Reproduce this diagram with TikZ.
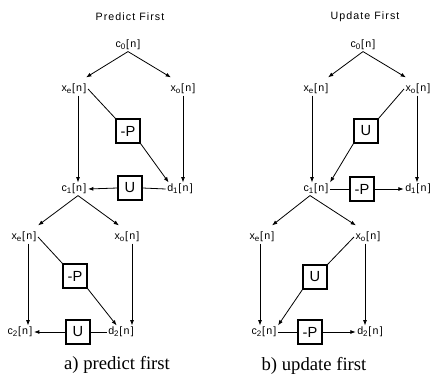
\documentclass[tikz,border=0pt]{standalone}
\usepackage{fontspec}
\setmainfont{Liberation Serif}
\newfontfamily\labfont[LetterSpace=12]{Liberation Sans}
\newfontfamily\titfont[LetterSpace=10]{Liberation Sans}
\newfontfamily\boxfont{Liberation Sans}
\usetikzlibrary{arrows.meta,calc}
\newcommand\mysb[1]{\textsubscript{#1}}
\tikzset{
 lbl/.style={font=\labfont\fontsize{8}{9}\selectfont, inner sep=1pt},
 blk/.style={draw, line width=0.8pt, minimum width=18pt, minimum height=18pt, inner sep=0pt, font=\boxfont\fontsize{11}{12}\selectfont},
 ttl/.style={font=\titfont\fontsize{8}{9}\selectfont},
 captxt/.style={font=\fontsize{14}{16}\selectfont},
 arr/.style={-{Latex[length=4pt,width=3pt]}, line width=0.6pt},
 ln/.style={line width=0.6pt},
}
\begin{document}
\begin{tikzpicture}[x=0.75pt,y=-0.75pt]
\path[use as bounding box] (0,0) rectangle (436,375);
% ---------- left panel ----------
\node[ttl] (ta) at (130,17) {Predict First};
\node[lbl] (c0a) at (128,45) {c\mysb{0}[n]};
\node[lbl] (xea) at (74,89) {x\mysb{e}[n]};
\node[lbl] (xoa) at (183,89) {x\mysb{o}[n]};
\node[blk] (Pa) at (128,131) {-P};
\node[lbl] (c1a) at (74,189) {c\mysb{1}[n]};
\node[blk] (Ua) at (130,188) {U};
\node[lbl] (d1a) at (180,189) {d\mysb{1}[n]};
\node[lbl] (xeb) at (24,237) {x\mysb{e}[n]};
\node[lbl] (xob) at (127,237) {x\mysb{o}[n]};
\node[blk] (Pb) at (75,276) {-P};
\node[lbl] (c2b) at (20,332) {c\mysb{2}[n]};
\node[blk] (Ub) at (78,332) {U};
\node[lbl] (d2b) at (121,332) {d\mysb{2}[n]};
\node[captxt] (capa) at (117,365) {a) predict first};
\draw[arr] (c0a.south) -- ($(xea.north east)+(-2,-5)$);
\draw[arr] (c0a.south) -- ($(xoa.north west)+(2,-5)$);
\draw[arr] ($(xea.south)+(4,0)$) -- ($(c1a.north)+(4,0)$);
\draw[arr] ($(xoa.south)+(0,0)$) -- ($(d1a.north)+(3,0)$);
\draw[ln] (xea.east) -- (Pa.north west);
\draw[arr] (Pa.south east) -- ($(d1a.north west)+(3,0)$);
\draw[ln] (d1a.west) -- (Ua.east);
\draw[arr] (Ua.west) -- (c1a.east);
\draw[arr] ($(c1a.south)+(4,0)$) -- ($(xeb.north east)+(0,-5)$);
\draw[arr] ($(c1a.south)+(4,0)$) -- ($(xob.north west)+(6,-5)$);
\draw[arr] ($(xeb.south)+(4,0)$) -- ($(c2b.north)+(8,0)$);
\draw[arr] ($(xob.south)+(5,0)$) -- ($(d2b.north)+(11,0)$);
\draw[ln] (xeb.east) -- (Pb.north west);
\draw[arr] (Pb.south east) -- ($(d2b.north west)+(10,0)$);
\draw[ln] (d2b.west) -- (Ub.east);
\draw[arr] (Ub.west) -- (c2b.east);
% ---------- right panel ----------
\node[ttl] (tc) at (365,17) {Update First};
\node[lbl] (c0c) at (363,45) {c\mysb{0}[n]};
\node[lbl] (xec) at (316,89) {x\mysb{e}[n]};
\node[lbl] (xoc) at (418,89) {x\mysb{o}[n]};
\node[blk] (Uc) at (366,131) {U};
\node[lbl] (c1c) at (316,189) {c\mysb{1}[n]};
\node[blk] (Pc) at (362,189) {-P};
\node[lbl] (d1c) at (418,189) {d\mysb{1}[n]};
\node[lbl] (xed) at (262,237) {x\mysb{e}[n]};
\node[lbl] (xod) at (368,237) {x\mysb{o}[n]};
\node[blk] (Ud) at (315,277) {U};
\node[lbl] (c2d) at (264,332) {c\mysb{2}[n]};
\node[blk] (Pd) at (310,332) {-P};
\node[lbl] (d2d) at (370,332) {d\mysb{2}[n]};
\node[captxt] (capc) at (314,366) {b) update first};
\draw[arr] (c0c.south) -- ($(xec.north east)+(-2,-5)$);
\draw[arr] (c0c.south) -- ($(xoc.north west)+(2,-5)$);
\draw[arr] ($(xec.south)+(-4,0)$) -- ($(c1c.north)+(-4,0)$);
\draw[arr] ($(xoc.south)+(-1,0)$) -- ($(d1c.north)+(-1,0)$);
\draw[ln] (xoc.west) -- (Uc.north east);
\draw[arr] (Uc.south west) -- (c1c.north east);
\draw[ln] (c1c.east) -- (Pc.west);
\draw[arr] (Pc.east) -- (d1c.west);
\draw[arr] ($(c1c.south)+(-6,0)$) -- ($(xed.north east)+(-4,-5)$);
\draw[arr] ($(c1c.south)+(-6,0)$) -- ($(xod.north west)+(2,-5)$);
\draw[arr] ($(xed.south)+(-2,0)$) -- ($(c2d.north)+(-4,0)$);
\draw[arr] ($(xod.south)+(-3,0)$) -- ($(d2d.north)+(-5,0)$);
\draw[ln] (xod.west) -- (Ud.north east);
\draw[arr] (Ud.south west) -- (c2d.north east);
\draw[ln] (c2d.east) -- (Pd.west);
\draw[arr] (Pd.east) -- (d2d.west);
\end{tikzpicture}
\end{document}
